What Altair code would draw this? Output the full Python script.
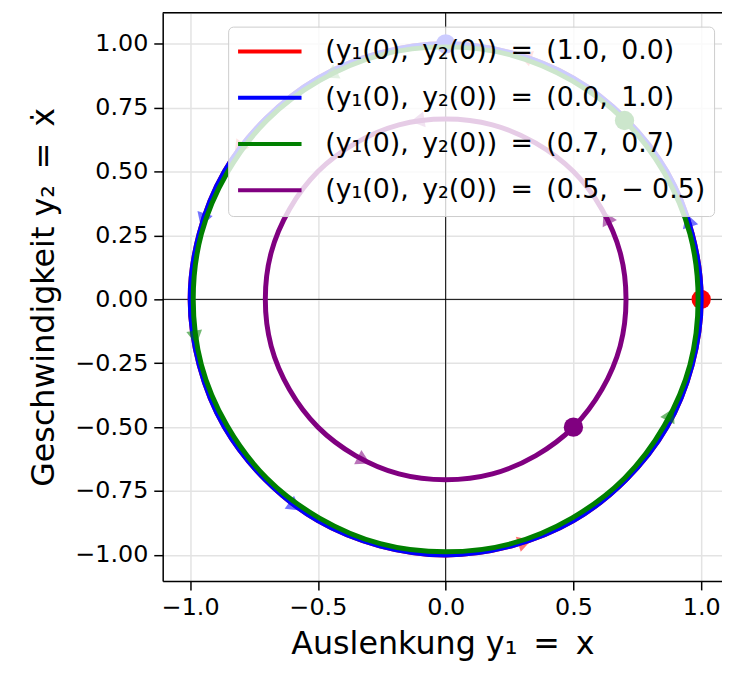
import altair as alt
import pandas as pd

# ---- data ----
SP = "\u2002"
labels = [
    f"(y₁(0),{SP}y₂(0)){SP}={SP}(1.0,{SP}0.0)",
    f"(y₁(0),{SP}y₂(0)){SP}={SP}(0.0,{SP}1.0)",
    f"(y₁(0),{SP}y₂(0)){SP}={SP}(0.7,{SP}0.7)",
    f"(y₁(0),{SP}y₂(0)){SP}={SP}(0.5,{SP}− 0.5)",
]
colors = ["#ff0000", "#0000ff", "#008000", "#800080"]

# trajectory points (closed orbits)
red_x = [1.0, 0.866, 0.5, 0.0, -0.5, -0.866, -1.0, -0.866, -0.5, 0.0, 0.5, 0.866]
red_y = [0.0, 0.5, 0.866, 1.0, 0.866, 0.5, 0.0, -0.5, -0.866, -1.0, -0.866, -0.5]
blue_x = [0.0, -0.5, -0.866, -1.0, -0.866, -0.5, 0.0, 0.5, 0.866, 1.0, 0.866, 0.5]
blue_y = [1.0, 0.866, 0.5, 0.0, -0.5, -0.866, -1.0, -0.866, -0.5, 0.0, 0.5, 0.866]
green_x = [0.7, 0.256, -0.256, -0.7, -0.956, -0.956, -0.7, -0.256, 0.256, 0.7, 0.956, 0.956]
green_y = [0.7, 0.956, 0.956, 0.7, 0.256, -0.256, -0.7, -0.956, -0.956, -0.7, -0.256, 0.256]
purple_x = [0.5, 0.683, 0.683, 0.5, 0.183, -0.183, -0.5, -0.683, -0.683, -0.5, -0.183, 0.183]
purple_y = [-0.5, -0.183, 0.183, 0.5, 0.683, 0.683, 0.5, 0.183, -0.183, -0.5, -0.683, -0.683]

# direction arrows (position, rotation in degrees)
red_ax, red_ay, red_aa = [0.31, -0.81, 0.31], [0.95, 0.59, -0.95], [198, 126, 342]
blue_ax, blue_ay, blue_aa = [-0.95, -0.59, 0.95], [0.31, -0.81, 0.31], [108, 36, 252]
green_ax, green_ay, green_aa = [-0.45, -0.98, 0.88], [0.88, -0.15, -0.45], [153, 81, 297]
purple_ax, purple_ay, purple_aa = [0.63, -0.11, -0.32], [0.32, 0.70, -0.63], [243, 171, 27]

# initial conditions
start_x = [1.0, 0.0, 0.7, 0.5]
start_y = [0.0, 1.0, 0.7, -0.5]

x_ticks = [-1.0, -0.5, 0.0, 0.5, 1.0]
y_ticks = [-1.0, -0.75, -0.5, -0.25, 0.0, 0.25, 0.5, 0.75, 1.0]
x_domain = [-1.1075, 1.0815]
y_domain = [-1.102, 1.1215]

# ---- chart ----
FONT = "DejaVu Sans"
xs = alt.Scale(domain=x_domain, nice=False, zero=False)
ys = alt.Scale(domain=y_domain, nice=False, zero=False)
cs = alt.Scale(domain=labels, range=colors)

axis_common = dict(
    labelFont=FONT, labelFontSize=24, labelColor="black",
    titleFont=FONT, titleFontSize=32, titleColor="black", titleFontWeight="normal",
    domainColor="black", domainWidth=1.5, tickColor="black", tickWidth=1.5, tickSize=9,
    gridColor="#e3e3e3", gridWidth=1.5, labelPadding=6,
)
x_axis = alt.Axis(values=x_ticks, format=".1f", title=f"Auslenkung y₁{SP}={SP}x",
                  titlePadding=9, labelFlush=False, **axis_common)
y_axis = alt.Axis(values=y_ticks, format=".2f", title=f"Geschwindigkeit y₂{SP}={SP}ẋ",
                  titlePadding=15, **axis_common)

zero_df = pd.DataFrame({"v": [0.0]})
vrule = alt.Chart(zero_df).mark_rule(color="black", strokeWidth=1).encode(
    x=alt.X("v:Q", scale=xs, axis=x_axis))
hrule = alt.Chart(zero_df).mark_rule(color="black", strokeWidth=1).encode(
    y=alt.Y("v:Q", scale=ys, axis=y_axis))
top_frame = alt.Chart(zero_df).mark_rule(color="black", strokeWidth=1.5).encode(
    y=alt.value(0))

legend = alt.Legend(
    title=None, orient="none", legendX=66, legendY=14,
    fillColor="rgba(255,255,255,0.8)", strokeColor="#cccccc", cornerRadius=5,
    padding=8, labelFont=FONT, labelFontSize=27, labelColor="black", labelLimit=0,
    symbolType="stroke", symbolSize=4096, symbolStrokeWidth=4, symbolOpacity=1,
    labelOffset=22, clipHeight=34, rowPadding=12.7,
)

series = [
    (red_x, red_y, red_ax, red_ay, red_aa),
    (blue_x, blue_y, blue_ax, blue_ay, blue_aa),
    (green_x, green_y, green_ax, green_ay, green_aa),
    (purple_x, purple_y, purple_ax, purple_ay, purple_aa),
]

layers = [vrule, hrule, top_frame]
for i, (sx, sy, ax, ay, aa) in enumerate(series):
    lab = labels[i]
    ldf = pd.DataFrame({"x": sx, "y": sy, "k": list(range(len(sx))), "series": lab})
    adf = pd.DataFrame({"x": ax, "y": ay, "a": aa, "series": lab})
    ddf = pd.DataFrame({"x": [start_x[i]], "y": [start_y[i]], "series": lab})
    line = alt.Chart(ldf).mark_line(interpolate="cardinal-closed", strokeWidth=5).encode(
        x=alt.X("x:Q", scale=xs, axis=x_axis),
        y=alt.Y("y:Q", scale=ys, axis=y_axis),
        order="k:Q",
        color=alt.Color("series:N", scale=cs, legend=legend),
    )
    arrows = alt.Chart(adf).mark_point(shape="triangle-right", filled=True, size=260,
                                        opacity=0.55).encode(
        x=alt.X("x:Q", scale=xs, axis=x_axis),
        y=alt.Y("y:Q", scale=ys, axis=y_axis),
        angle=alt.Angle("a:Q", scale=None),
        color=alt.Color("series:N", scale=cs, legend=legend),
    )
    dot = alt.Chart(ddf).mark_circle(size=380, opacity=1).encode(
        x=alt.X("x:Q", scale=xs, axis=x_axis),
        y=alt.Y("y:Q", scale=ys, axis=y_axis),
        color=alt.Color("series:N", scale=cs, legend=legend),
    )
    layers += [line, arrows, dot]

chart = alt.layer(*layers).properties(
    width=564, height=573,
    autosize=alt.AutoSizeParams(type="none"),
    padding={"left": 156, "top": 2, "right": 0, "bottom": 88},
).configure_view(stroke=None).configure(background="white")

chart.save("out.html", embed_options={"renderer": "svg", "actions": False})
